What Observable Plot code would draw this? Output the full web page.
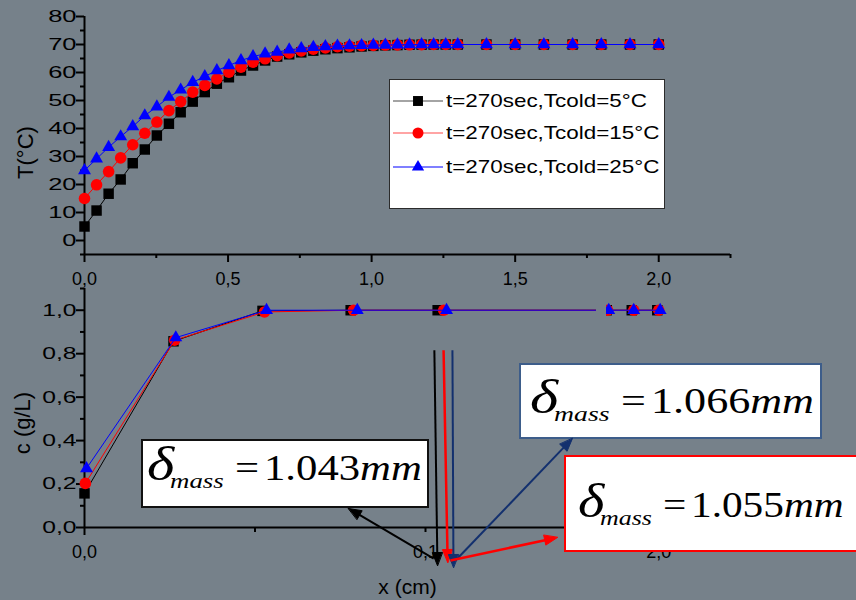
<!DOCTYPE html>
<html><head><meta charset="utf-8">
<script src="https://cdn.jsdelivr.net/npm/d3@7"></script>
<script src="https://cdn.jsdelivr.net/npm/@observablehq/plot@0.6"></script>
<style>
html,body{margin:0;padding:0;background:#76818a;}
#wrap{position:relative;width:856px;height:600px;overflow:hidden;background:#76818a;font-family:"Liberation Sans",Arial,sans-serif;}
#wrap > svg{position:absolute;left:0;}
.legend{position:absolute;left:389px;top:79px;width:276px;height:130px;box-sizing:border-box;background:#fff;border:1px solid #2b2b2b;}
.lrow{position:absolute;left:3px;height:20px;display:flex;align-items:center;white-space:nowrap;}
.ltext{font-size:19px;line-height:20px;display:inline-block;transform:scaleX(1.18);transform-origin:left center;margin-left:1px;color:#000;}
.dbox{position:absolute;box-sizing:border-box;background:#fff;}
.piece{position:absolute;font-family:"Liberation Serif","Times New Roman",serif;line-height:1;white-space:nowrap;color:#000;transform-origin:left top;}
.gapcover{position:absolute;background:#76818a;}
</style></head><body><div id="wrap"></div><script>
// ---------- data ----------
const xTop = [0,0.042,0.084,0.126,0.168,0.210,0.252,0.294,0.335,0.377,0.419,0.461,0.503,0.545,0.587,0.629,
  0.671,0.713,0.755,0.797,0.839,0.881,0.923,0.965,1.006,1.048,1.090,1.132,1.174,1.216,1.258,1.300,
  1.4,1.5,1.6,1.7,1.8,1.9,2.0];
const tempCold5 = [5,10.7,16.7,21.8,27.6,32.5,37.5,41.7,45.8,49.6,53.0,56.0,58.3,60.7,62.5,64.3,
  65.7,66.5,67.2,67.8,68.3,68.7,69.0,69.3,69.5,69.7,69.8,69.9,69.95,70,70,70,
  70,70,70,70,70,70,70];
const tempCold15 = [15,19.9,24.6,29.5,34.2,38.3,42.3,46.4,49.6,53.0,55.4,57.7,60.1,61.9,63.7,64.9,
  66.0,67.0,67.7,68.3,68.8,69.2,69.4,69.6,69.7,69.8,69.85,69.9,69.95,70,70,70,
  70,70,70,70,70,70,70];
const tempCold25 = [25,29.2,33.3,37.1,40.7,44.6,47.8,51.2,53.8,56.5,58.6,60.7,62.5,64.3,65.7,66.7,
  67.3,68.1,68.6,69.0,69.3,69.5,69.6,69.7,69.8,69.85,69.9,69.95,70,70,70,70,
  70,70,70,70,70,70,70];

const xConc5  = [0, 0.31, 0.62, 0.927, 1.23, 1.819, 1.906, 1.995];
const xConc15 = [0.003, 0.314, 0.627, 0.937, 1.251, 1.822, 1.913, 2.0];
const xConc25 = [0.007, 0.318, 0.634, 0.95, 1.261, 1.826, 1.913, 2.005];
const conc5  = [0.157, 0.857, 0.997, 1, 1, 1, 1, 1];
const conc15 = [0.203, 0.862, 0.992, 1, 1, 1, 1, 1];
const conc25 = [0.272, 0.874, 1.0, 1, 1, 1, 1, 1];

const seriesNames = ["t=270sec,Tcold=5°C", "t=270sec,Tcold=15°C", "t=270sec,Tcold=25°C"];
const seriesColors = ["#000000", "#ff0000", "#0000ff"];
const legendLineColors = ["#4a4a4a", "#ff4a4a", "#0000ff"];
const seriesSymbols = ["square", "circle", "triangle"];

const tempTicks = [0,10,20,30,40,50,60,70,80];
const tempMinor = [-5,5,15,25,35,45,55,65,75];
const xTopTicks = [0,0.5,1,1.5,2];
const xTopMinor = [0.25,0.75,1.25,1.75,2.25];
const concTicks = [0,0.2,0.4,0.6,0.8,1.0];
const concMinor = [0.1,0.3,0.5,0.7,0.9,1.1];
const deltaAxisTicks = [0.05, 0.1];          // lower x axis (cm)
const deltaAxisLabels = ["", "0,1"];
const deltaBoxes = ["1.043", "1.066", "1.055"]; // δmass values (mm)

// annotation arrows in lower-axis units (x in cm, y in g/L)
const arrows = [
  {x1:0.1026, y1:0.816, x2:0.1035, y2:-0.175, color:"#000000", w:2},
  {x1:0.1053, y1:0.816, x2:0.1065, y2:-0.161, color:"#ff0000", w:2.5},
  {x1:0.1079, y1:0.816, x2:0.1082, y2:-0.184, color:"#13306e", w:2},
  {x1:0.1024, y1:-0.143, x2:0.0774, y2:0.0876, color:"#000000", w:2},
  {x1:0.1088, y1:-0.152, x2:0.1431, y2:0.410, color:"#13306e", w:2},
  {x1:0.1073, y1:-0.152, x2:0.1387, y2:-0.046, color:"#ff0000", w:2.5}
];

(function () {
// ---------- helpers ----------
const comma = d => d.toFixed(1).replace(".", ",");
const symR = {square:5.9, circle:5.8, triangle:4.8};
const tempSeries = [tempCold5, tempCold15, tempCold25];
const concX = [xConc5, xConc15, xConc25];
const concY = [conc5, conc15, conc25];
const W = 856, ML = 84, MR = 126;
const baseStyle = {background:"transparent", overflow:"visible", fontFamily:'"Liberation Sans", Arial, sans-serif', fontSize:"18px", color:"#000"};
const wrap = document.getElementById("wrap");

function seriesMarks(xs, ys) {
  const out = [];
  for (let s = 0; s < 3; s++) {
    const d = xs(s).map((x, i) => ({x, y: ys[s][i]}));
    out.push(Plot.line(d, {x:"x", y:"y", stroke: seriesColors[s], strokeWidth: 1}));
    out.push(Plot.dot(d, {x:"x", y:"y", symbol: seriesSymbols[s], fill: seriesColors[s], stroke:"none", r: symR[seriesSymbols[s]]}));
  }
  return out;
}

// widen y tick labels (the reference draws them horizontally stretched)
function stretchY(svg, s) {
  svg.querySelectorAll('g[aria-label="y-axis tick label"] text').forEach(t => {
    const w = t.getComputedTextLength();
    if (!w) return;
    t.setAttribute("textLength", (w * s).toFixed(2));
    t.setAttribute("lengthAdjust", "spacingAndGlyphs");
  });
}

// ---------- top panel ----------
const topPlot = Plot.plot({
  width: W, height: 292, marginLeft: ML, marginRight: MR, marginTop: 16, marginBottom: 38,
  style: baseStyle,
  x: {domain: [0, 2.25]}, y: {domain: [-5, 80]},
  marks: [
    Plot.ruleY([-5], {stroke:"#000", strokeWidth:2}),
    Plot.ruleX([0], {stroke:"#000", strokeWidth:2}),
    Plot.axisY({ticks: tempTicks, tickSize: 8, tickPadding: 0, tickFormat: d => String(d), strokeWidth: 2, label: null, fontSize: 17}),
    Plot.axisY({ticks: tempMinor, tickSize: 4, tickFormat: () => "", strokeWidth: 2, label: null}),
    Plot.axisX({ticks: xTopTicks, tickSize: 8, tickPadding: 10, tickFormat: comma, strokeWidth: 2, label: null}),
    Plot.axisX({ticks: xTopMinor, tickSize: 4, tickFormat: () => "", strokeWidth: 2, label: null}),
    Plot.text(["T(°C)"], {text: d => d, frameAnchor: "left", dx: -59, dy: 17, rotate: -90, textAnchor: "middle", lineAnchor: "middle", fontSize: 22}),
    ...seriesMarks(() => xTop, tempSeries)
  ]
});
topPlot.style.top = "0px";
wrap.appendChild(topPlot);

// legend
const legend = document.createElement("div");
legend.className = "legend";
const rowCenters = [21, 53, 87];
seriesNames.forEach((name, s) => {
  const row = document.createElement("div");
  row.className = "lrow";
  row.style.top = (rowCenters[s] - 10) + "px";
  const svg = d3.create("svg").attr("width", 52).attr("height", 20).style("display", "block");
  svg.append("line").attr("x1", 0).attr("x2", 50).attr("y1", 10).attr("y2", 10)
     .attr("stroke", legendLineColors[s]).attr("stroke-width", 1.2);
  const shp = {square: d3.symbolSquare, circle: d3.symbolCircle, triangle: d3.symbolTriangle}[seriesSymbols[s]];
  const r = symR[seriesSymbols[s]] * 0.95;
  svg.append("path").attr("d", d3.symbol(shp, r * r * Math.PI)()).attr("transform", "translate(25,10)")
     .attr("fill", seriesColors[s]);
  row.appendChild(svg.node());
  const txt = document.createElement("span");
  txt.className = "ltext";
  txt.textContent = name;
  row.appendChild(txt);
  legend.appendChild(row);
});
wrap.appendChild(legend);

// ---------- bottom panel ----------
const bottomPlot = Plot.plot({
  width: W, height: 320, marginLeft: ML, marginRight: MR, marginTop: 8, marginBottom: 73,
  style: baseStyle,
  x: {domain: [0, 2.25]}, y: {domain: [0, 1.1]},
  marks: [
    Plot.ruleY([0], {stroke:"#000", strokeWidth:2}),
    Plot.ruleX([0], {stroke:"#000", strokeWidth:2}),
    Plot.axisY({ticks: concTicks, tickSize: 8, tickPadding: 0, tickFormat: comma, strokeWidth: 2, label: null, fontSize: 17}),
    Plot.axisY({ticks: concMinor, tickSize: 4, tickFormat: () => "", strokeWidth: 2, label: null}),
    Plot.axisX({ticks: [2], tickSize: 0, tickPadding: 18, tickFormat: comma, label: null}),
    Plot.text(["c (g/L)"], {text: d => d, frameAnchor: "left", dx: -62, dy: 15, rotate: -90, textAnchor: "middle", lineAnchor: "middle", fontSize: 22}),
    ...seriesMarks(s => concX[s], concY)
  ]
});
bottomPlot.style.top = "280px";
wrap.appendChild(bottomPlot);

const gap = document.createElement("div");
gap.className = "gapcover";
Object.assign(gap.style, {left: "596px", top: "302px", width: "10px", height: "16px"});
wrap.appendChild(gap);

// δ boxes
const boxLayout = [
  {left:141, top:439, width:288, height:69, border:"2px solid #111", lx:4, base:39, s:1.22},
  {left:519, top:363, width:303, height:76, border:"2px solid #3d5d8a", lx:9, base:48, s:1.26},
  {left:564, top:455, width:300, height:97, border:"2px solid #ff0000", lx:12, base:60, s:1.18}
];
deltaBoxes.forEach((v, i) => {
  const L = boxLayout[i];
  const b = document.createElement("div");
  b.className = "dbox";
  Object.assign(b.style, {left: L.left + "px", top: L.top + "px", width: L.width + "px", height: L.height + "px", border: L.border});
  const pieces = [
    {html: "<i>δ</i>", f: 48, off: 0, dy: 0},
    {html: "<i>mass</i>", f: 22, off: 19, dy: 8},
    {html: "=", f: 35, off: 72, dy: 0},
    {html: `${v}<i>mm</i>`, f: 35, off: 96, dy: 0}
  ];
  pieces.forEach(p => {
    const e = document.createElement("span");
    e.className = "piece";
    e.innerHTML = p.html;
    e.style.fontSize = p.f + "px";
    e.style.left = (L.lx + p.off * L.s) + "px";
    e.style.top = (L.base + p.dy - 0.8375 * p.f) + "px";
    e.style.transform = `scaleX(${L.s})`;
    b.appendChild(e);
  });
  wrap.appendChild(b);
});

// ---------- overlay: lower x axis in cm + arrows ----------
const xDeltaMax = (W - ML - MR) / 3410;
const KX = (W - ML - MR) / xDeltaMax;
const KY = (320 - 8 - 73) / 1.1;
const arrowMarks = [];
arrows.forEach(a => {
  const dx = (a.x2 - a.x1) * KX, dy = -(a.y2 - a.y1) * KY;
  const len = Math.hypot(dx, dy), ux = dx / len, uy = dy / len;
  const Lh = 13, Wh = 10;
  const nx = -uy, ny = ux;
  const pts = [[0, 0], [-ux * Lh + nx * Wh / 2, -uy * Lh + ny * Wh / 2], [-ux * Lh - nx * Wh / 2, -uy * Lh - ny * Wh / 2]]
    .map(([px, py]) => ({x: a.x2 + px / KX, y: a.y2 - py / KY}));
  const shaftEnd = {x: a.x2 - ux * Lh * 0.8 / KX, y: a.y2 + uy * Lh * 0.8 / KY};
  arrowMarks.push(Plot.link([a], {x1: "x1", y1: "y1", x2: () => shaftEnd.x, y2: () => shaftEnd.y, stroke: a.color, strokeWidth: a.w}));
  arrowMarks.push(Plot.line(pts, {x: "x", y: "y", fill: a.color, stroke: a.color, strokeWidth: 1, curve: "linear-closed"}));
});
const overlay = Plot.plot({
  width: W, height: 320, marginLeft: ML, marginRight: MR, marginTop: 8, marginBottom: 73,
  style: baseStyle,
  x: {domain: [0, xDeltaMax]}, y: {domain: [0, 1.1], axis: null},
  marks: [
    Plot.axisX({ticks: [0], tickSize: 8, tickPadding: 10, tickFormat: comma, strokeWidth: 2, label: null}),
    Plot.axisX({ticks: deltaAxisTicks, tickSize: 5, tickPadding: 13, tickFormat: d => deltaAxisLabels[deltaAxisTicks.indexOf(d)], strokeWidth: 2, label: null}),
    Plot.text(["x (cm)"], {text: d => d, frameAnchor: "bottom", dy: 60, textAnchor: "middle", lineAnchor: "middle", fontSize: 21}),
    ...arrowMarks
  ]
});
overlay.style.top = "280px";
wrap.appendChild(overlay);

stretchY(topPlot, 1.5);
stretchY(bottomPlot, 1.45);
})();
</script></body></html>
